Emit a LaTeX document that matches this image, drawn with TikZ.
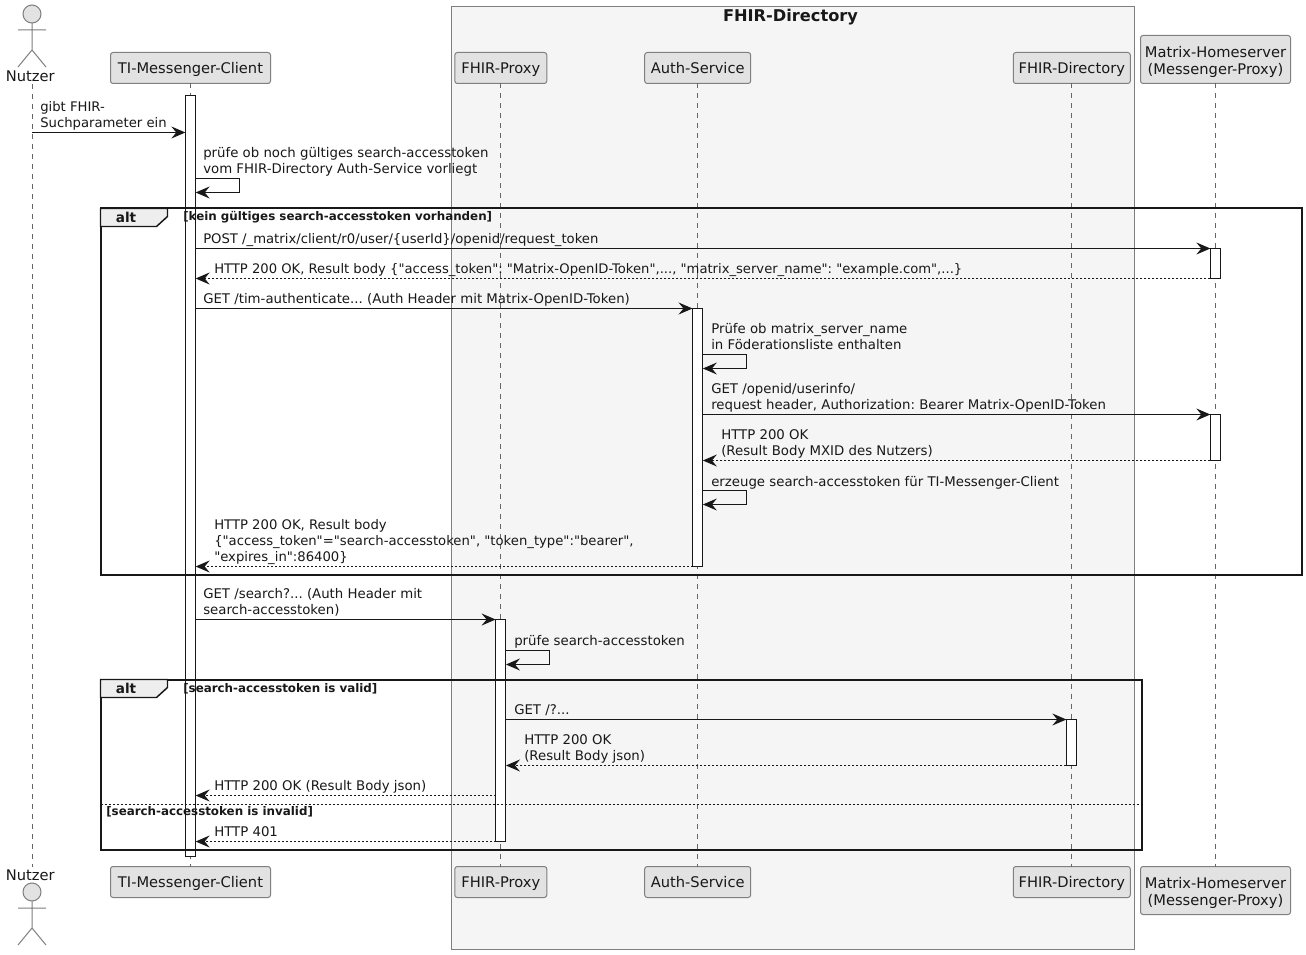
\documentclass[tikz,border=0pt]{standalone}
\usepackage{fontspec}
\newfontfamily\dvs{DejaVu Sans}
\usetikzlibrary{arrows.meta,calc}
\definecolor{ink}{HTML}{181818}
\definecolor{partfill}{HTML}{E2E2E2}
\definecolor{partline}{HTML}{7F7F7F}
\definecolor{lifeline}{HTML}{666666}
\definecolor{boxfill}{HTML}{F5F5F5}
\definecolor{tabfill}{HTML}{EEEEEE}
\newcommand{\tstrut}{\rule{0pt}{8.25pt}}
\newcommand{\pl}{\rule[-3pt]{0pt}{14pt}}
\newcommand{\plA}{\rule{0pt}{12.5pt}}
\newcommand{\plB}{\rule[-3pt]{0pt}{1pt}}
\tikzset{
  x=0.75pt,y=-0.75pt,
  every node/.style={text=ink},
  part/.style={draw=partline,fill=partfill,line width=0.75pt,rounded corners=1.9pt,inner sep=0pt,outer sep=0pt,
    align=center,font=\dvs\frenchspacing\fontsize{11pt}{12.75pt}\selectfont},
  actorname/.style={inner sep=0pt,font=\dvs\fontsize{11pt}{12pt}\selectfont},
  actorline/.style={draw=partline,line width=0.75pt},
  life/.style={draw=lifeline,line width=0.75pt,dash pattern=on 3.75pt off 3.75pt},
  bar/.style={draw=ink,fill=white,line width=0.75pt,inner sep=0pt,outer sep=0pt,minimum width=7.75pt},
  msg/.style={draw=ink,line width=0.75pt,-{Stealth[length=10.5pt,width=9pt,inset=3.75pt]}},
  ret/.style={msg,dash pattern=on 1.5pt off 1.5pt},
  lab/.style={anchor=north west,inner sep=0pt,align=left,execute at begin node=\tstrut,
    font=\dvs\frenchspacing\fontsize{9.98pt}{12pt}\selectfont},
  labnarrow/.style={lab,font=\dvs\frenchspacing\fontsize{9.9pt}{12pt}\selectfont},
  labtight/.style={lab,font=\dvs\frenchspacing\fontsize{9.86pt}{12pt}\selectfont},
  frame/.style={draw=ink,line width=1.5pt},
  tab/.style={draw=ink,fill=tabfill,line width=1.1pt},
  altname/.style={inner sep=0pt,font=\dvs\fontsize{10.2pt}{12pt}\selectfont\bfseries},
  guard/.style={anchor=west,inner sep=0pt,font=\dvs\fontsize{8.9pt}{10pt}\selectfont\bfseries},
}
\begin{document}
\begin{tikzpicture}
\useasboundingbox (0,0) rectangle (1306,955);
\fill[white] (0,0) rectangle (1306,955);

% group box
\draw[draw=partline,fill=boxfill,line width=0.75pt] (451.5,6.5) rectangle (1134.5,949.5);
\node[inner sep=0pt,font=\dvs\fontsize{12.15pt}{14pt}\selectfont\bfseries] (grouptitle) at (790.5,16.8) {FHIR-Directory};

% participants top
\node[part,minimum width=120pt,minimum height=23.25pt] (tiT) at (190.5,68) {\pl TI-Messenger-Client};
\node[part,minimum width=69pt,minimum height=23.25pt] (fpT) at (500.8,68) {\pl FHIR-Proxy};
\node[part,minimum width=79.5pt,minimum height=23.25pt] (asT) at (697.7,68) {\pl Auth-Service};
\node[part,minimum width=87.75pt,minimum height=23.25pt] (fdT) at (1071.8,68) {\pl FHIR-Directory};
\node[part,minimum width=112.5pt,minimum height=36pt] (mhT) at (1215.5,59.5) {\plA Matrix-Homeserver\\\plB (Messenger-Proxy)};
% participants bottom
\node[part,minimum width=120pt,minimum height=23.25pt] (tiB) at (190.5,882) {\pl TI-Messenger-Client};
\node[part,minimum width=69pt,minimum height=23.25pt] (fpB) at (500.8,882) {\pl FHIR-Proxy};
\node[part,minimum width=79.5pt,minimum height=23.25pt] (asB) at (697.7,882) {\pl Auth-Service};
\node[part,minimum width=87.75pt,minimum height=23.25pt] (fdB) at (1071.8,882) {\pl FHIR-Directory};
\node[part,minimum width=112.5pt,minimum height=36pt] (mhB) at (1215.5,890.5) {\plA Matrix-Homeserver\\\plB (Messenger-Proxy)};

% actors
\node[actorname] (nuT) at (30.3,76) {Nutzer};
\node[actorname] (nuB) at (30.3,875) {Nutzer};
\draw[actorline,fill=partfill] (32,14) circle (9);
\draw[actorline] (32,23) -- (32,50) (18,30) -- (46,30) (18,67) -- (32,50) -- (46,67);
\draw[actorline,fill=partfill] (32,892) circle (9);
\draw[actorline] (32,901) -- (32,928) (18,908) -- (46,908) (18,945) -- (32,928) -- (46,945);
\coordinate (nuL) at (32,84);
\coordinate (nuM) at (32,867);

% lifelines
\draw[life] (nuL) -- (nuM);
\draw[life] (tiT.south) -- (tiB.north);
\draw[life] (fpT.south) -- (fpB.north);
\draw[life] (asT.south) -- (asB.north);
\draw[life] (fdT.south) -- (fdB.north);
\draw[life] (mhT.south) -- (mhB.north);

% activation bars
\node[bar,minimum height=570.75pt] (tiBar) at (190.5,476) {};
\node[bar,minimum height=22.5pt] (mhBarA) at (1215.5,263.5) {};
\node[bar,minimum height=193.9pt] (asBar) at (697.7,437.5) {};
\node[bar,minimum height=34.5pt] (mhBarB) at (1215.5,437.5) {};
\node[bar,minimum height=166.5pt] (fpBar) at (500.8,730.5) {};
\node[bar,minimum height=34.5pt] (fdBar) at (1071.5,742.5) {};

% alt frames
\draw[frame] (100.5,208.5) rectangle (1301.5,574.5);
\draw[tab] (100.5,208.5) -- (167.5,208.5) -- (167.5,216.5) -- (156.5,226.5) -- (100.5,226.5) -- cycle;
\node[altname] (alt1) at (126,217.5) {alt};
\node[guard] (g1) at (183,217.5) {[kein gültiges search-accesstoken vorhanden]};

\draw[frame] (100.5,679.5) rectangle (1141.5,849.5);
\draw[tab] (100.5,679.5) -- (167.5,679.5) -- (167.5,687.5) -- (156.5,697.5) -- (100.5,697.5) -- cycle;
\node[altname] (alt2) at (126,688.5) {alt};
\node[guard] (g2) at (183,688.5) {[search-accesstoken is valid]};
\draw[draw=ink,line width=0.75pt,dash pattern=on 1.5pt off 1.5pt] (100.5,804.5) -- (1141.5,804.5);
\node[guard] (g3) at (106,812) {[search-accesstoken is invalid]};

% message rows
\coordinate (r1) at (0,132.5);
\coordinate (r2) at (0,178.5);   \coordinate (r2b) at (0,192.5);
\coordinate (r3) at (0,248.5);
\coordinate (r4) at (0,278.5);
\coordinate (r5) at (0,308.5);
\coordinate (r6) at (0,354.5);   \coordinate (r6b) at (0,368.5);
\coordinate (r7) at (0,414.5);
\coordinate (r8) at (0,460.5);
\coordinate (r9) at (0,490.5);   \coordinate (r9b) at (0,504.5);
\coordinate (r10) at (0,566.5);
\coordinate (r11) at (0,619.5);
\coordinate (r12) at (0,650.5);  \coordinate (r12b) at (0,664.5);
\coordinate (r13) at (0,719.5);
\coordinate (r14) at (0,765.5);
\coordinate (r15) at (0,795.5);
\coordinate (r16) at (0,841.5);

% messages
\draw[msg] (nuL |- r1) -- (tiBar.west |- r1);
\node[labnarrow] (m1) at (40,101) {gibt FHIR-\\Suchparameter ein};

\draw[msg] (tiBar.east |- r2) -- ++(44,0) -- ++(0,14) -- (tiBar.east |- r2b);
\node[lab] (m2) at (203,147) {prüfe ob noch gültiges search-accesstoken\\vom FHIR-Directory Auth-Service vorliegt};

\draw[msg] (tiBar.east |- r3) -- (mhBarA.west |- r3);
\node[labnarrow] (m3) at (203,232) {POST /\_matrix/client/r0/user/\{userId\}/openid/request\_token};

\draw[ret] (mhBarA.west |- r4) -- (tiBar.east |- r4);
\node[labtight] (m4) at (214,262) {HTTP 200 OK, Result body \{"access\_token": "Matrix-OpenID-Token",..., "matrix\_server\_name": "example.com",...\}};

\draw[msg] (tiBar.east |- r5) -- (asBar.west |- r5);
\node[lab] (m5) at (203,292) {GET /tim-authenticate... (Auth Header mit Matrix-OpenID-Token)};

\draw[msg] (asBar.east |- r6) -- ++(44,0) -- ++(0,14) -- (asBar.east |- r6b);
\node[lab] (m6) at (711,323) {Prüfe ob matrix\_server\_name\\in Föderationsliste enthalten};

\draw[msg] (asBar.east |- r7) -- (mhBarB.west |- r7);
\node[lab] (m7) at (711,383) {GET /openid/userinfo/\\request header, Authorization: Bearer Matrix-OpenID-Token};

\draw[ret] (mhBarB.west |- r8) -- (asBar.east |- r8);
\node[lab] (m8) at (721,429.5) {HTTP 200 OK\\(Result Body MXID des Nutzers)};

\draw[msg] (asBar.east |- r9) -- ++(44,0) -- ++(0,14) -- (asBar.east |- r9b);
\node[lab] (m9) at (711,475) {erzeuge search-accesstoken für TI-Messenger-Client};

\draw[ret] (asBar.west |- r10) -- (tiBar.east |- r10);
\node[labnarrow] (m10) at (214,519) {HTTP 200 OK, Result body\\\{"access\_token"="search-accesstoken", "token\_type":"bearer",\\"expires\_in":86400\}};

\draw[msg] (tiBar.east |- r11) -- (fpBar.west |- r11);
\node[lab] (m11) at (203,588) {GET /search?... (Auth Header mit\\search-accesstoken)};

\draw[msg] (fpBar.east |- r12) -- ++(44,0) -- ++(0,14) -- (fpBar.east |- r12b);
\node[lab] (m12) at (514,634) {prüfe search-accesstoken};

\draw[msg] (fpBar.east |- r13) -- (fdBar.west |- r13);
\node[lab] (m13) at (514,703) {GET /?...};

\draw[ret] (fdBar.west |- r14) -- (fpBar.east |- r14);
\node[lab] (m14) at (524,734) {HTTP 200 OK\\(Result Body json)};

\draw[ret] (fpBar.west |- r15) -- (tiBar.east |- r15);
\node[lab] (m15) at (214,779) {HTTP 200 OK (Result Body json)};

\draw[ret] (fpBar.west |- r16) -- (tiBar.east |- r16);
\node[lab] (m16) at (214,825) {HTTP 401};
\end{tikzpicture}
\end{document}
